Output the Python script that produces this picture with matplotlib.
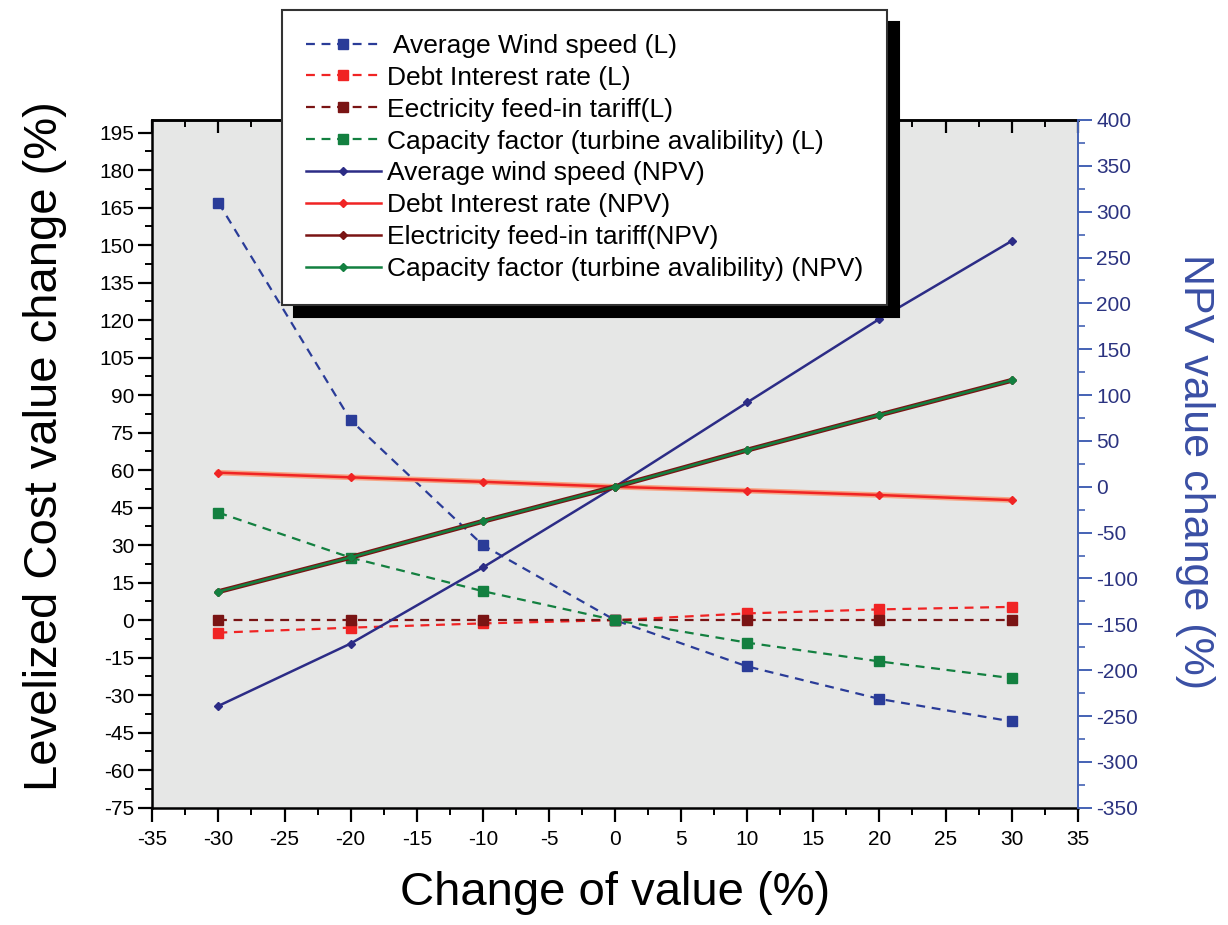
import matplotlib
matplotlib.use("Agg")
import matplotlib.pyplot as plt
import numpy as np

plt.rcParams['font.family'] = ['Liberation Sans', 'DejaVu Sans']
plt.rcParams['axes.unicode_minus'] = False

# ---- data ----
change = [-30, -20, -10, 0, 10, 20, 30]
wind_L = [167, 80, 30, 0, -18.5, -31.5, -40.5]
debt_L = [-5, -3, -1.3, 0, 2.7, 4.3, 5.3]
tariff_L = [0, 0, 0, 0, 0, 0, 0]
cap_L = [43, 25, 11.6, 0, -9, -16.5, -23.2]
wind_NPV = [-239, -171, -88, 0, 92, 183, 268]
debt_NPV = [15.4, 10.3, 5.4, 0, -4.3, -9, -14.5]
tariff_NPV = [-114.4, -77, -37.7, 0, 40, 78.3, 116]
cap_NPV = [-114.4, -77, -37.7, 0, 40, 78.3, 116]

labels = [" Average Wind speed (L)", "Debt Interest rate (L)",
          "Eectricity feed-in tariff(L)",
          "Capacity factor (turbine avalibility) (L)",
          "Average wind speed (NPV)", "Debt Interest rate (NPV)",
          "Electricity feed-in tariff(NPV)",
          "Capacity factor (turbine avalibility) (NPV)"]

x_ticks = list(range(-35, 36, 5))
left_ticks = list(range(-75, 196, 15))
right_ticks = list(range(-350, 401, 50))

# ---- colours ----
c_blue_L = '#2a3c98'
c_navy = '#2c2c86'
c_red = '#f02424'
c_dred = '#7a1414'
c_green = '#138040'

fig = plt.figure(figsize=(12.28, 9.25), dpi=100)
W, H = 1228, 925
l, r, t, b = 152.3, 1077.7, 120, 807.7
ax = fig.add_axes([l / W, 1 - b / H, (r - l) / W, (b - t) / H])
ax.set_facecolor('#e6e7e6')
ax2 = ax.twinx()

dash = (0, (4, 3))
h = []
h += ax.plot(change, wind_L, linestyle=dash, color=c_blue_L, lw=1.6,
             marker='s', ms=7, mfc=c_blue_L, mec=c_blue_L)
h += ax.plot(change, debt_L, linestyle=dash, color=c_red, lw=1.6,
             marker='s', ms=7, mfc=c_red, mec=c_red)
h += ax.plot(change, tariff_L, linestyle=dash, color=c_dred, lw=1.6,
             marker='s', ms=7, mfc=c_dred, mec=c_dred)
h += ax.plot(change, cap_L, linestyle=dash, color=c_green, lw=1.6,
             marker='s', ms=7, mfc=c_green, mec=c_green)

h += ax2.plot(change, wind_NPV, '-', color=c_navy, lw=1.8,
              marker='D', ms=4, mfc=c_navy, mec=c_navy)
# salmon halo under the red NPV line
ax2.plot(change, debt_NPV, '-', color='#f6a585', lw=4, label='_nolegend_')
h += ax2.plot(change, debt_NPV, '-', color=c_red, lw=1.8,
              marker='D', ms=4, mfc=c_red, mec=c_red)
# brown underlay (tariff NPV coincides with capacity factor NPV)
ax2.plot(change, tariff_NPV, '-', color=c_dred, lw=3.6, label='_nolegend_')
h += ax2.plot(change, tariff_NPV, '-', color=c_dred, lw=1.8,
              marker='D', ms=4, mfc=c_dred, mec=c_dred)
h += ax2.plot(change, cap_NPV, '-', color=c_green, lw=1.8,
              marker='D', ms=4, mfc=c_green, mec=c_green)

# ---- axes limits and ticks ----
ax.set_xlim(-35, 35)
ax.set_ylim(-75, 200)
ax2.set_ylim(-350, 400)
ax.set_xticks(x_ticks)
ax.set_xticks(np.arange(-35, 35.1, 2.5), minor=True)
ax.set_yticks(left_ticks)
ax.set_yticks(np.arange(-75, 196, 7.5), minor=True)
ax2.set_yticks(right_ticks)
ax2.set_yticks(np.arange(-350, 401, 25), minor=True)

ax.tick_params(axis='both', which='major', direction='out', length=10,
               width=1.6, labelsize=15, colors='black', right=False, top=False)
ax.tick_params(axis='both', which='minor', direction='out', length=5,
               width=1.4, right=False, top=False)
ax.tick_params(axis='y', pad=3)
ax.tick_params(axis='x', pad=6)
ax2.tick_params(axis='y', which='major', direction='out', length=10,
                width=1.4, labelsize=15, color='#4462b4', labelcolor='#2b3380')
ax2.tick_params(axis='y', which='minor', direction='out', length=5,
                width=1.2, color='#4462b4')

sec = ax.secondary_xaxis('top')
sec.set_xticks(x_ticks)
sec.set_xticks(np.arange(-35, 35.1, 2.5), minor=True)
sec.tick_params(axis='x', which='major', direction='in', length=9, width=1.6,
                labeltop=False)
sec.tick_params(axis='x', which='minor', direction='in', length=5, width=1.4)
sec.spines['top'].set_linewidth(1.8)

for s in ['left', 'bottom', 'top']:
    ax.spines[s].set_linewidth(1.8)
ax.spines['right'].set_visible(False)
for s in ['left', 'bottom', 'top']:
    ax2.spines[s].set_visible(False)
ax2.spines['right'].set_color('#4462b4')
ax2.spines['right'].set_linewidth(1.4)

# ---- labels ----
fig.text(615 / W, 1 - 893 / H, "Change of value (%)", fontsize=34,
         ha='center', va='center')
fig.text(45 / W, 1 - 446 / H, "Levelized Cost value change (%)", fontsize=34,
         rotation=90, ha='center', va='center')
fig.text(1195 / W, 1 - 472 / H, "NPV value change (%)", fontsize=31,
         rotation=270, ha='center', va='center', color='#3a4fa4')

# ---- legend ----
leg = ax2.legend(h, labels, loc='upper left',
                 bbox_to_anchor=(282 / W, 1 - 10 / H),
                 bbox_transform=fig.transFigure,
                 fontsize=19, frameon=True, fancybox=False,
                 shadow={'ox': 8.5, 'oy': -8.5, 'facecolor': 'black',
                         'edgecolor': 'black', 'alpha': 1},
                 borderpad=0.9, labelspacing=0.3, handlelength=2.84,
                 handletextpad=0.23, borderaxespad=0, markerscale=1.0)
leg.get_frame().set_edgecolor('#333333')
leg.get_frame().set_linewidth(1.5)
leg.get_frame().set_alpha(1)
leg.set_zorder(20)

fig.savefig('out.png', dpi=100, facecolor='white')
